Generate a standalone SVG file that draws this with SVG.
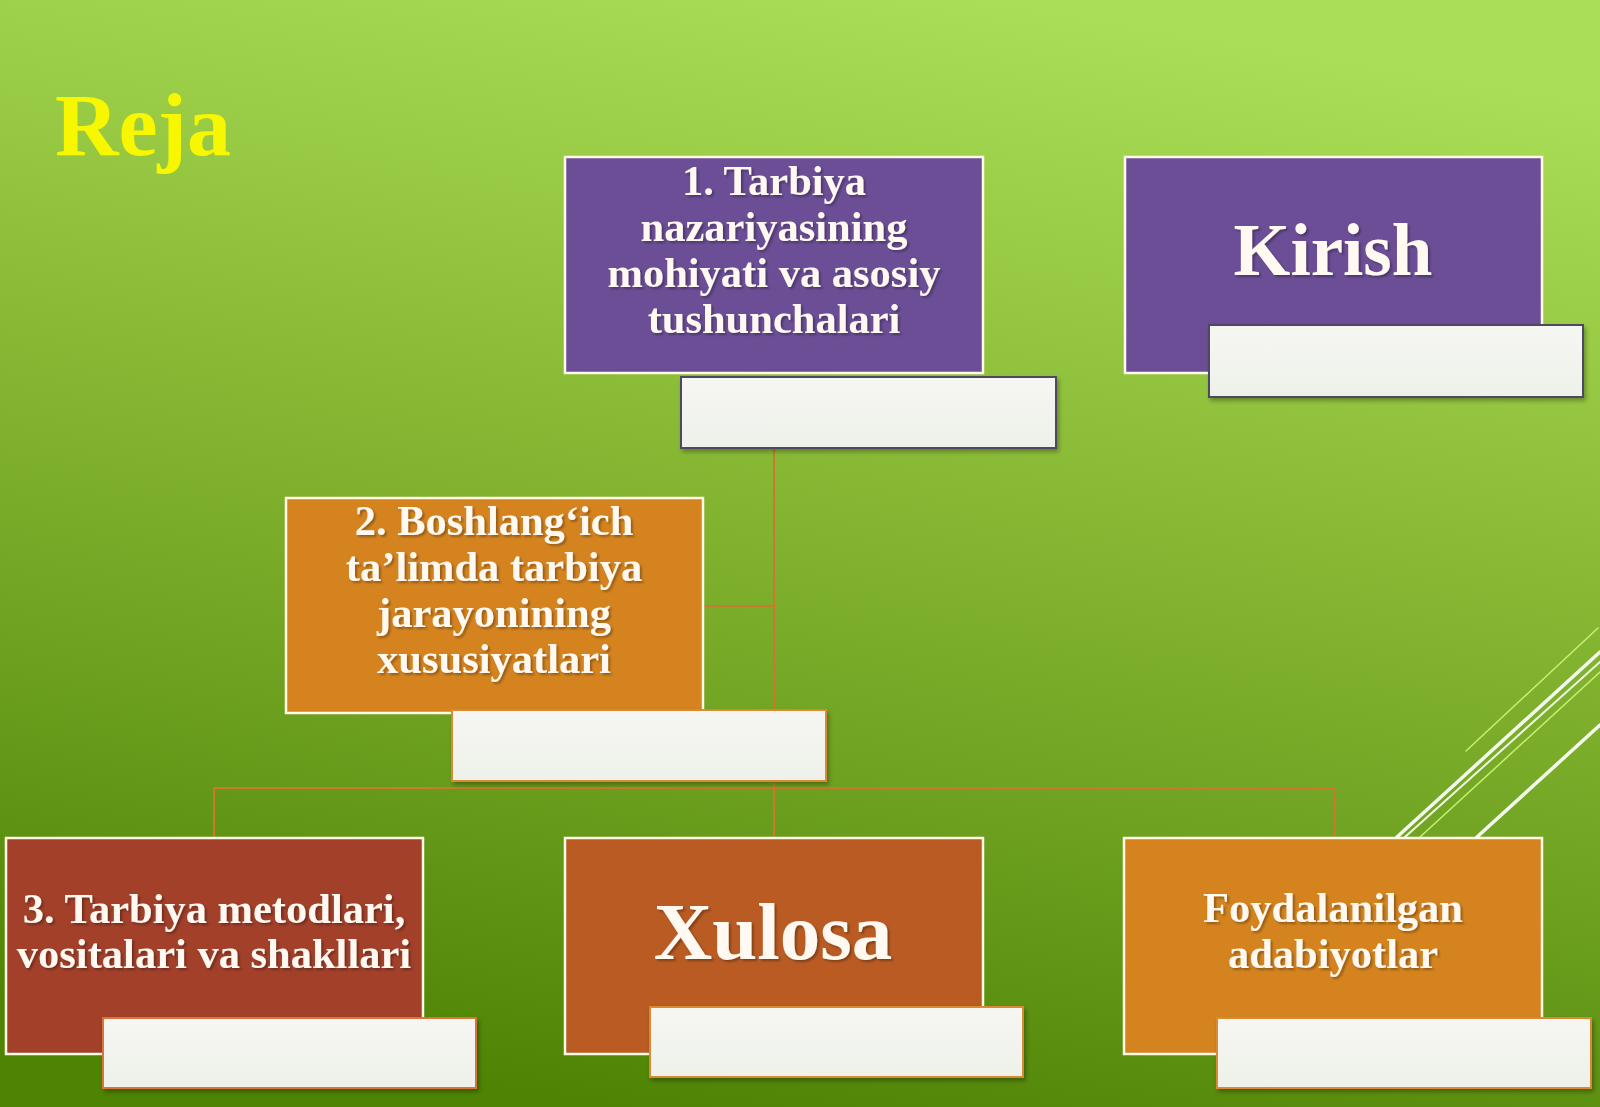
<svg xmlns="http://www.w3.org/2000/svg" width="1600" height="1107" viewBox="0 0 1600 1107">
<defs>
<linearGradient id="bg" x1="0.62" y1="0" x2="0.38" y2="1">
<stop offset="0" stop-color="#aade57"/>
<stop offset="0.35" stop-color="#8ebf3a"/>
<stop offset="0.7" stop-color="#6da01f"/>
<stop offset="1" stop-color="#4e8304"/>
</linearGradient>
<linearGradient id="lab" x1="0" y1="0" x2="0" y2="1">
<stop offset="0" stop-color="#f6f6f2"/>
<stop offset="1" stop-color="#eef1ea"/>
</linearGradient>
<filter id="ts" x="-10%" y="-20%" width="120%" height="150%">
<feDropShadow dx="2" dy="2" stdDeviation="1.2" flood-color="#000" flood-opacity="0.3"/>
</filter>
<filter id="bs" x="-5%" y="-5%" width="112%" height="120%">
<feDropShadow dx="2" dy="3" stdDeviation="2" flood-color="#000" flood-opacity="0.3"/>
</filter>
</defs>
<style>
.box{stroke:#fffbe6;stroke-width:2.5}
.purple{fill:#6b4e96}
.orange{fill:#d4831f}
.red{fill:#a2402a}
.rust{fill:#b95b23}
.lab{fill:url(#lab);stroke-width:2;filter:url(#bs)}
.lp{stroke:#4e4a60}
.lo{stroke:#d98a33}
.t{font-family:"Liberation Serif","Times New Roman",serif;font-weight:bold;fill:#fff9f2;text-anchor:middle;filter:url(#ts)}
.m{font-size:42.5px}
.conn{stroke:#c97a2c;stroke-width:2;fill:none}
.deco{fill:none;stroke-linecap:round}
</style>
<rect x="0" y="0" width="1600" height="1107" fill="url(#bg)"/>
<g id="decor">
<line class="deco" x1="1466" y1="751" x2="1598" y2="628" stroke="#c8f070" stroke-width="1.5"/>
<line class="deco" x1="1397" y1="837" x2="1600" y2="652" stroke="#f4fbee" stroke-width="3.5"/>
<line class="deco" x1="1405" y1="837" x2="1600" y2="662" stroke="#eef8e0" stroke-width="2"/>
<line class="deco" x1="1420" y1="837" x2="1600" y2="672" stroke="#c8f070" stroke-width="1.5"/>
<line class="deco" x1="1477" y1="837" x2="1600" y2="725" stroke="#f4fbee" stroke-width="3.5"/>
</g>
<text x="55" y="155" font-family="'Liberation Serif','Times New Roman',serif" font-weight="bold" font-size="88" fill="#f7f700">Reja</text>
<g id="connectors">
<line class="conn" x1="774" y1="448" x2="774" y2="838"/>
<line class="conn" x1="703" y1="606" x2="774" y2="606"/>
<line class="conn" x1="214" y1="788" x2="1335" y2="788"/>
<line class="conn" x1="214" y1="788" x2="214" y2="838"/>
<line class="conn" x1="1335" y1="788" x2="1335" y2="838"/>
</g>
<g id="node1">
<rect class="box purple" x="565" y="157" width="418" height="216"/>
<text class="t m" x="774" y="195">1. Tarbiya</text>
<text class="t m" x="774" y="241">nazariyasining</text>
<text class="t m" x="774" y="287">mohiyati va asosiy</text>
<text class="t m" x="774" y="333">tushunchalari</text>
<rect class="lab lp" x="681" y="377" width="375" height="71"/>
</g>
<g id="kirish">
<rect class="box purple" x="1125" y="157" width="417" height="216"/>
<text class="t" x="1333" y="275" font-size="73">Kirish</text>
<rect class="lab lp" x="1209" y="325" width="374" height="72"/>
</g>
<g id="node2">
<rect class="box orange" x="286" y="498" width="417" height="215"/>
<text class="t m" x="494" y="535">2. Boshlang‘ich</text>
<text class="t m" x="494" y="581">ta’limda tarbiya</text>
<text class="t m" x="494" y="627">jarayonining</text>
<text class="t m" x="494" y="673">xususiyatlari</text>
<rect class="lab lo" x="452" y="710" width="374" height="71"/>
</g>
<g id="node3">
<rect class="box red" x="6" y="838" width="417" height="216"/>
<text class="t m" x="214" y="923">3. Tarbiya metodlari,</text>
<text class="t m" x="214" y="968">vositalari va shakllari</text>
<rect class="lab lo" x="103" y="1018" width="373" height="70" style="stroke:#d9753a"/>
</g>
<g id="xulosa">
<rect class="box rust" x="565" y="838" width="418" height="216"/>
<text class="t" x="773" y="959" font-size="81">Xulosa</text>
<rect class="lab lo" x="650" y="1007" width="373" height="70"/>
</g>
<g id="adabiyotlar">
<rect class="box orange" x="1124" y="838" width="418" height="216"/>
<text class="t m" x="1333" y="922">Foydalanilgan</text>
<text class="t m" x="1333" y="968">adabiyotlar</text>
<rect class="lab lo" x="1217" y="1018" width="374" height="70"/>
</g>
</svg>
